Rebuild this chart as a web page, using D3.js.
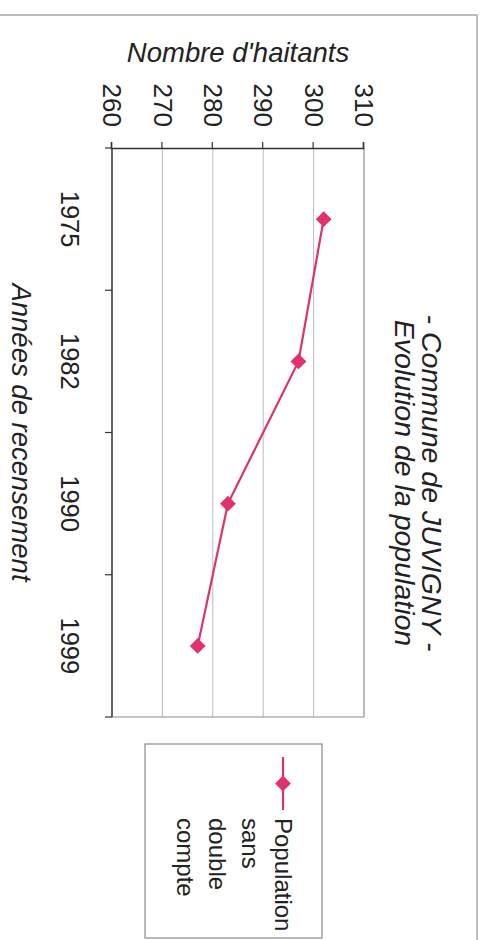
<!DOCTYPE html>
<html>
<head>
<meta charset="utf-8">
<script src="https://cdn.jsdelivr.net/npm/d3@7"></script>
<style>
  html, body { margin: 0; padding: 0; background: #fff; }
  svg { display: block; }
  text { font-family: "Liberation Sans", Arial, sans-serif; fill: #222; }
</style>
</head>
<body>
<svg id="chart" width="485" height="940"></svg>
<script>
// Census years and population (sans double compte)
const years = ["1975", "1982", "1990", "1999"];
const population = [302, 297, 283, 277];
const valueTicks = [260, 270, 280, 290, 300, 310];
const seriesName = ["Population", "sans", "double", "compte"];
const titleLines = ["- Commune de JUVIGNY -", "Evolution de la population"];
const valueTitle = "Nombre d'haitants";
const categoryTitle = "Années de recensement";

const pink = "#e0306e";

const svg = d3.select("#chart");
svg.append("rect").attr("width", 485).attr("height", 940).attr("fill", "#fff");

// The page is drawn in landscape and turned a quarter turn clockwise.
const g = svg.append("g").attr("transform", "translate(485,0) rotate(90)");

// Chart frame
g.append("rect")
  .attr("x", 15).attr("y", 8).attr("width", 980).attr("height", 500)
  .attr("fill", "none").attr("stroke", "#a8a8ac").attr("stroke-width", 1.5);

const plot = { left: 148, right: 717, top: 121, bottom: 373 };

const x = d3.scaleBand().domain(years).range([plot.left, plot.right]);
const y = d3.scaleLinear().domain([260, 310]).range([plot.bottom, plot.top]);

// Gridlines
g.append("g").selectAll("line")
  .data(valueTicks.slice(1, -1))
  .join("line")
  .attr("x1", plot.left).attr("x2", plot.right)
  .attr("y1", d => y(d)).attr("y2", d => y(d))
  .attr("stroke", "#b9b9c8").attr("stroke-width", 1);

// Plot border (top and right sides lighter)
g.append("line")
  .attr("x1", plot.left).attr("x2", plot.right)
  .attr("y1", plot.top).attr("y2", plot.top)
  .attr("stroke", "#8a8a96").attr("stroke-width", 1.2);
g.append("line")
  .attr("x1", plot.right).attr("x2", plot.right)
  .attr("y1", plot.top).attr("y2", plot.bottom)
  .attr("stroke", "#8a8a96").attr("stroke-width", 1.2);

// Value axis
const yAxis = g.append("g")
  .attr("transform", `translate(${plot.left},0)`)
  .call(d3.axisLeft(y).tickValues(valueTicks).tickSize(6).tickPadding(15).tickFormat(d3.format("d")));
yAxis.select(".domain").attr("stroke", "#333").attr("stroke-width", 1.5);
yAxis.selectAll(".tick line").attr("stroke", "#333").attr("stroke-width", 1.2);
yAxis.selectAll(".tick text")
  .style("font-size", "26px").style("font-family", "Liberation Sans, Arial, sans-serif").attr("fill", "#222");

// Category axis: ticks between categories, labels centred in each band
const bounds = years.map(d => x(d)).concat([x.range()[1]]);
const xAxis = g.append("g").attr("transform", `translate(0,${plot.bottom})`);
xAxis.append("line")
  .attr("x1", plot.left).attr("x2", plot.right)
  .attr("stroke", "#333").attr("stroke-width", 1.5);
xAxis.selectAll("line.tk")
  .data(bounds)
  .join("line").attr("class", "tk")
  .attr("x1", d => d).attr("x2", d => d)
  .attr("y1", 0).attr("y2", 7)
  .attr("stroke", "#333").attr("stroke-width", 1.2);
xAxis.selectAll("text")
  .data(years)
  .join("text")
  .attr("x", d => x(d) + x.bandwidth() / 2)
  .attr("y", 42)
  .attr("dy", "0.35em")
  .attr("text-anchor", "middle")
  .style("font-size", "25.5px")
  .text(d => d);

// Series line and markers
const pts = years.map((d, i) => [x(d) + x.bandwidth() / 2, y(population[i])]);
g.append("path")
  .attr("d", d3.line()(pts))
  .attr("fill", "none").attr("stroke", pink).attr("stroke-width", 2.2);
const diamond = d3.symbol(d3.symbolSquare, 125);
g.append("g").selectAll("path")
  .data(pts)
  .join("path")
  .attr("d", diamond)
  .attr("transform", d => `translate(${d[0]},${d[1]}) rotate(45)`)
  .attr("fill", pink);

// Titles
g.append("g").selectAll("text")
  .data(titleLines)
  .join("text")
  .attr("x", 483)
  .attr("y", (d, i) => 53 + i * 27)
  .attr("dy", "0.35em")
  .attr("text-anchor", "middle")
  .style("font-size", "28.5px").style("font-style", "italic")
  .text(d => d);

g.append("text")
  .attr("transform", `translate(52,${(plot.top + plot.bottom) / 2}) rotate(-90)`)
  .attr("dy", "0.35em")
  .attr("text-anchor", "middle")
  .style("font-size", "27.5px").style("font-style", "italic")
  .text(valueTitle);

g.append("text")
  .attr("x", (plot.left + plot.right) / 2)
  .attr("y", 463)
  .attr("dy", "0.35em")
  .attr("text-anchor", "middle")
  .style("font-size", "27.5px").style("font-style", "italic")
  .text(categoryTitle);

// Legend
const lg = g.append("g").attr("transform", "translate(744,163)");
lg.append("rect")
  .attr("width", 194).attr("height", 177)
  .attr("fill", "#fff").attr("stroke", "#8a8a90").attr("stroke-width", 1.2);
lg.append("line")
  .attr("x1", 13).attr("x2", 66).attr("y1", 39).attr("y2", 39)
  .attr("stroke", pink).attr("stroke-width", 2.2);
lg.append("path")
  .attr("d", diamond)
  .attr("transform", "translate(39.5,39) rotate(45)")
  .attr("fill", pink);
lg.selectAll("text.lab")
  .data(seriesName)
  .join("text").attr("class", "lab")
  .attr("x", 74)
  .attr("y", (d, i) => 39 + i * 32.7)
  .attr("dy", "0.35em")
  .style("font-size", "24px")
  .text(d => d);
</script>
</body>
</html>
